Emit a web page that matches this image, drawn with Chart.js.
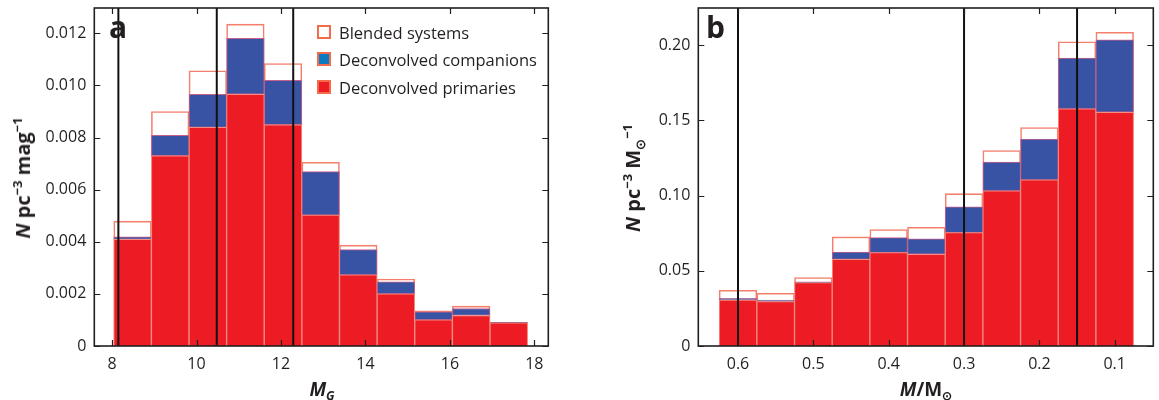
<!DOCTYPE html>
<html>
<head>
<meta charset="utf-8">
<script src="https://cdn.jsdelivr.net/npm/chart.js@4.4.1/dist/chart.umd.min.js"></script>
<style>
  body { margin: 0; background: #fff; font-family: "Open Sans", sans-serif; color: #231f20; }
  #page { position: relative; width: 1159px; height: 400px; overflow: hidden; }
  .panel { position: absolute; top: 0; height: 400px; }
  .txt { position: absolute; white-space: nowrap; line-height: 1; }
  .ytitle { font-weight: 700; font-size: 20px; transform: translate(-50%, -50%) rotate(-90deg); }
  .xtitle { font-weight: 700; font-size: 19px; transform: translate(-50%, -50%); }
  .tag { font-weight: 700; font-size: 30px; }
  .leg { position: absolute; left: 317px; font-size: 16.5px; }
  .leg span.box { position: absolute; left: 0; top: -7px; width: 10px; height: 10px; border: 2px solid #f26b4a; }
  .leg span.t { position: absolute; left: 22px; top: -11px; white-space: nowrap; }
  sup, sub { font-size: 65%; line-height: 0; }
</style>
</head>
<body>
<div id="page">
  <div class="panel" style="left:0;width:580px"><canvas id="chartA"></canvas></div>
  <div class="panel" style="left:580px;width:579px"><canvas id="chartB"></canvas></div>

  <div class="txt tag" style="left:109px;top:12px">a</div>
  <div class="txt tag" style="left:706px;top:12px">b</div>

  <div class="txt ytitle" style="left:23px;top:178px"><i>N</i> pc<sup>−3</sup> mag<sup>−1</sup></div>
  <div class="txt xtitle" style="left:322px;top:389px"><i>M<sub>G</sub></i></div>
  <div class="txt ytitle" style="left:633px;top:178px"><i>N</i> pc<sup>−3</sup> M<sub>⊙</sub><sup>−1</sup></div>
  <div class="txt xtitle" style="left:926px;top:389px"><i>M</i>/M<sub>⊙</sub></div>

  <div class="leg" style="top:32px"><span class="box" style="background:#fff"></span><span class="t">Blended systems</span></div>
  <div class="leg" style="top:59px"><span class="box" style="background:#0a7bc1"></span><span class="t">Deconvolved companions</span></div>
  <div class="leg" style="top:87px"><span class="box" style="background:#ed1c24"></span><span class="t">Deconvolved primaries</span></div>
</div>

<script>
// Panel a: luminosity function (M_G bins)
const binsA = [8.486, 9.377, 10.268, 11.158, 12.049, 12.940, 13.831, 14.722, 15.613, 16.504, 17.395];
const blendedA = [0.00479, 0.00900, 0.01056, 0.01235, 0.01084, 0.00705, 0.00387, 0.00257, 0.00135, 0.00153, 0.00091];
const primariesA = [0.00409, 0.00730, 0.00839, 0.00966, 0.00849, 0.00502, 0.00273, 0.00200, 0.00100, 0.00117, 0.00089];
const companionsA = [0.00010, 0.00078, 0.00127, 0.00215, 0.00170, 0.00167, 0.00097, 0.00046, 0.00031, 0.00027, 0.00001];
const linesA = [8.15, 10.48, 12.29];
const xTicksA = [8, 10, 12, 14, 16, 18];
const yTicksA = [0, 0.002, 0.004, 0.006, 0.008, 0.010, 0.012];

// Panel b: mass function (M / Msun bins)
const binsB = [0.6, 0.55, 0.5, 0.45, 0.4, 0.35, 0.3, 0.25, 0.2, 0.15, 0.1];
const blendedB = [0.0370, 0.0350, 0.0455, 0.0725, 0.0774, 0.0789, 0.1013, 0.1299, 0.1452, 0.2022, 0.2086];
const primariesB = [0.0306, 0.0295, 0.0421, 0.0576, 0.0621, 0.0610, 0.0754, 0.1031, 0.1104, 0.1576, 0.1554];
const companionsB = [0.0011, 0.0011, 0.0005, 0.0049, 0.0100, 0.0102, 0.0171, 0.0191, 0.0271, 0.0338, 0.0481];
const linesB = [0.6, 0.3, 0.15];
const xTicksB = [0.6, 0.5, 0.4, 0.3, 0.2, 0.1];
const yTicksB = [0, 0.05, 0.10, 0.15, 0.20];

const INK = '#231f20';

// frame + inward ticks on all four sides
const framePlugin = {
    id: 'frame',
    afterDraw(chart) {
        const { ctx, chartArea: a, scales: { x, y } } = chart;
        ctx.save();
        ctx.strokeStyle = INK;
        ctx.lineWidth = 1.2;
        ctx.beginPath();
        x.ticks.forEach(t => {
            const px = Math.round(x.getPixelForValue(t.value)) + 0.5;
            ctx.moveTo(px, a.bottom); ctx.lineTo(px, a.bottom - 6);
            ctx.moveTo(px, a.top); ctx.lineTo(px, a.top + 6);
        });
        y.ticks.forEach(t => {
            const py = Math.round(y.getPixelForValue(t.value)) + 0.5;
            ctx.moveTo(a.left, py); ctx.lineTo(a.left + 6, py);
            ctx.moveTo(a.right, py); ctx.lineTo(a.right - 6, py);
        });
        ctx.stroke();
        ctx.lineWidth = 1.6;
        ctx.strokeRect(a.left, a.top, a.width, a.height);
        ctx.restore();
    }
};

function makeChart(id, o) {
    const datasets = [
        {
            label: 'Deconvolved primaries',
            data: o.bins.map((b, i) => ({ x: b, y: o.primaries[i] })),
            backgroundColor: '#ed1c24',
            borderColor: '#f58d80',
            borderWidth: 1,
            order: 1
        },
        {
            label: 'Deconvolved companions',
            data: o.bins.map((b, i) => ({ x: b, y: [o.primaries[i], o.primaries[i] + o.companions[i]] })),
            backgroundColor: '#3953a4',
            borderColor: '#c4608a',
            borderWidth: 1,
            borderSkipped: false,
            order: 2
        },
        {
            label: 'Blended systems',
            data: o.bins.map((b, i) => ({ x: b, y: o.blended[i] })),
            backgroundColor: '#ffffff',
            borderColor: '#f3806c',
            borderWidth: 1.6,
            order: 3
        }
    ];
    o.lines.forEach(v => {
        datasets.push({
            type: 'line',
            data: [{ x: v, y: 0 }, { x: v, y: o.yMax }],
            borderColor: '#111',
            borderWidth: 2,
            pointRadius: 0,
            order: 0
        });
    });

    return new Chart(document.getElementById(id), {
        type: 'bar',
        data: { datasets: datasets },
        options: {
            responsive: true,
            maintainAspectRatio: false,
            animation: false,
            events: [],
            layout: { padding: { left: 0, right: o.padRight, top: 8, bottom: 0 } },
            datasets: { bar: { grouped: false, barPercentage: 1, categoryPercentage: 1 } },
            plugins: { legend: { display: false }, tooltip: { enabled: false } },
            scales: {
                x: {
                    type: 'linear',
                    offset: false,
                    min: o.xMin, max: o.xMax,
                    reverse: o.reverse,
                    grid: { display: false, drawTicks: false, offset: false },
                    border: { display: false },
                    afterBuildTicks: s => { s.ticks = o.xTicks.map(v => ({ value: v })); },
                    afterFit: s => { s.height = 54; s.paddingLeft = 0; s.paddingRight = 0; },
                    ticks: {
                        padding: 9,
                        color: INK,
                        font: { family: 'Open Sans', size: 16 },
                        callback: o.xFmt
                    }
                },
                y: {
                    min: 0, max: o.yMax,
                    grid: { display: false, drawTicks: false },
                    border: { display: false },
                    afterBuildTicks: s => { s.ticks = o.yTicks.map(v => ({ value: v })); },
                    afterFit: s => { s.width = o.yWidth; s.paddingTop = 0; s.paddingBottom = 0; },
                    ticks: {
                        padding: 8,
                        color: INK,
                        font: { family: 'Open Sans', size: 16 },
                        callback: o.yFmt
                    }
                }
            }
        },
        plugins: [framePlugin]
    });
}

makeChart('chartA', {
    bins: binsA, blended: blendedA, primaries: primariesA, companions: companionsA,
    lines: linesA, xTicks: xTicksA, yTicks: yTicksA,
    xMin: 7.58, xMax: 18.33, yMax: 0.01297, reverse: false,
    yWidth: 94.3, padRight: 31.7,
    xFmt: v => String(v),
    yFmt: v => v === 0 ? '0' : v.toFixed(3)
});

makeChart('chartB', {
    bins: binsB, blended: blendedB, primaries: primariesB, companions: companionsB,
    lines: linesB, xTicks: xTicksB, yTicks: yTicksB,
    xMin: 0.0488, xMax: 0.6527, yMax: 0.2247, reverse: true,
    yWidth: 118.3, padRight: 5.7,
    xFmt: v => v.toFixed(1),
    yFmt: v => v === 0 ? '0' : v.toFixed(2)
});
</script>
</body>
</html>
